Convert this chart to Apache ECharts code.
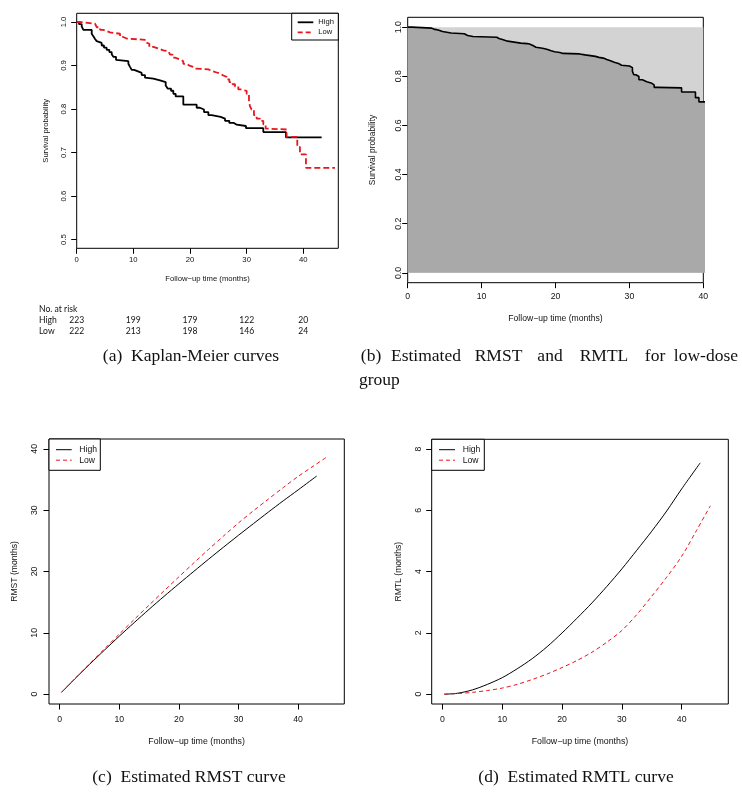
<!DOCTYPE html>
<html><head><meta charset="utf-8">
<script src="https://cdn.jsdelivr.net/npm/echarts@6/dist/echarts.min.js"></script>
<style>html,body{margin:0;padding:0;background:#fff}#c{width:742px;height:799px}</style>
</head><body><div id="c"></div>
<script>
// ---- Panel (a): Kaplan-Meier curves ----
const kmTimeHigh = [0, 0.41, 0.88, 1.18, 2.65, 2.94, 3.24, 3.53, 3.82, 4.41, 4.82, 5.29, 5.76, 6.18, 6.47, 6.94, 7.18, 9.12, 9.41, 9.71, 10.12, 10.71, 11.47, 12.06, 12.35, 13.53, 14.71, 15.71, 16.06, 16.65, 17.06, 17.47, 18.82, 21.18, 21.76, 22.47, 23.24, 23.82, 25.41, 26.18, 26.94, 27.76, 28.24, 29.88, 32.94, 36.94, 43.24];
const kmSurvHigh = [1.0, 0.995, 0.99, 0.982, 0.973, 0.967, 0.961, 0.956, 0.952, 0.946, 0.941, 0.936, 0.931, 0.926, 0.92, 0.913, 0.91, 0.904, 0.897, 0.89, 0.887, 0.883, 0.878, 0.872, 0.87, 0.866, 0.862, 0.854, 0.847, 0.842, 0.835, 0.829, 0.81, 0.803, 0.799, 0.793, 0.786, 0.782, 0.778, 0.773, 0.768, 0.764, 0.761, 0.756, 0.747, 0.735, 0.735];
const kmTimeLow = [0, 0.59, 3.24, 3.53, 4.12, 4.71, 5.29, 5.88, 7.65, 8.12, 8.82, 12.06, 12.35, 12.82, 13.53, 14.41, 15.29, 16.18, 16.47, 16.94, 17.35, 18.24, 18.82, 19.41, 19.88, 20.59, 21.0, 23.24, 24.0, 24.71, 25.41, 25.88, 26.47, 26.94, 27.53, 27.94, 28.53, 28.94, 30.0, 30.41, 30.59, 30.88, 31.29, 31.76, 32.35, 32.94, 33.35, 33.82, 37.06, 38.94, 39.41, 40.47, 45.59];
const kmSurvLow = [1.0, 0.996, 0.992, 0.988, 0.982, 0.979, 0.976, 0.973, 0.966, 0.962, 0.959, 0.954, 0.95, 0.943, 0.939, 0.935, 0.933, 0.931, 0.925, 0.918, 0.914, 0.91, 0.904, 0.9, 0.897, 0.893, 0.891, 0.887, 0.884, 0.881, 0.877, 0.874, 0.868, 0.862, 0.857, 0.852, 0.845, 0.842, 0.835, 0.82, 0.806, 0.799, 0.786, 0.778, 0.773, 0.765, 0.755, 0.753, 0.736, 0.713, 0.696, 0.665, 0.665];
// number at risk
const riskTimes = [0, 10, 20, 30, 40];
const riskHigh = [223, 199, 179, 122, 20];
const riskLow = [222, 213, 198, 146, 24];
// ---- Panel (b): RMST / RMTL for low-dose group (tau = 40) ----
const tau = 40;
const fullSurv = 1.0;
// ---- Panel (c)/(d): RMST and RMTL curves ----
const rTimeHigh = [0.3, 2.5, 5, 7.5, 10, 12.5, 15, 17.5, 20, 22.5, 25, 27.5, 30, 32.5, 35, 37.5, 40, 43.1];
const rmstHigh = [0.3, 2.47, 4.86, 7.18, 9.46, 11.67, 13.84, 15.95, 18.0, 20.02, 22.02, 23.98, 25.91, 27.8, 29.68, 31.52, 33.3, 35.55];
const rmtlHigh = [0, 0.03, 0.14, 0.32, 0.54, 0.83, 1.16, 1.55, 2.0, 2.48, 2.98, 3.52, 4.09, 4.7, 5.32, 5.98, 6.7, 7.55];
const rTimeLow = [0.3, 2.5, 5, 7.5, 10, 12.5, 15, 17.5, 20, 22.5, 25, 27.5, 30, 32.5, 35, 37.5, 40, 42.5, 44.8];
const rmstLow = [0.3, 2.48, 4.94, 7.38, 9.8, 12.18, 14.52, 16.84, 19.13, 21.4, 23.63, 25.8, 27.92, 29.9, 31.8, 33.68, 35.5, 37.15, 38.65];
const rmtlLow = [0, 0.02, 0.06, 0.12, 0.2, 0.32, 0.48, 0.66, 0.87, 1.1, 1.37, 1.7, 2.08, 2.6, 3.2, 3.82, 4.5, 5.35, 6.15];
// tick values
const xTicksA = [0, 10, 20, 30, 40];
const yTicksA = [0.5, 0.6, 0.7, 0.8, 0.9, 1.0];
const xTicksB = [0, 10, 20, 30, 40];
const yTicksB = [0.0, 0.2, 0.4, 0.6, 0.8, 1.0];
const xTicksCD = [0, 10, 20, 30, 40];
const yTicksC = [0, 10, 20, 30, 40];
const yTicksD = [0, 2, 4, 6, 8];
const groupNames = ['High', 'Low'];

const zip = (a, b) => a.map((v, i) => [v, b[i]]);
const SANS = 'Liberation Sans, Arial, sans-serif';
const SERIF = 'Liberation Serif, Times New Roman, serif';
const RED = '#e8161f';

function axis(gi, min, max, ticks, fs, margin, name, nameGap, nfs, fmt, isY) {
  return {
    type: 'value', gridIndex: gi, min: min, max: max,
    position: isY ? 'left' : 'bottom',
    name: name, nameLocation: 'middle', nameGap: nameGap,
    nameTextStyle: {fontFamily: SANS, fontSize: nfs, color: '#111'},
    axisLine: {show: false, onZero: false},
    axisTick: {show: true, length: 5.5, inside: false, customValues: ticks, lineStyle: {color: '#000', width: 1}},
    axisLabel: {show: true, customValues: ticks, fontFamily: SANS, fontSize: fs, color: '#111', margin: margin,
      rotate: isY ? 90 : 0, formatter: fmt || (v => String(v))},
    splitLine: {show: false}
  };
}
const f1 = v => Number(v).toFixed(1);

const grids = [
  {left: 76.7, top: 13.3, width: 261.6, height: 235},
  {left: 407.7, top: 17.3, width: 295.6, height: 265.4},
  {left: 49, top: 439, width: 295.3, height: 265},
  {left: 431.7, top: 439.3, width: 296.6, height: 264.7}
].map(g => Object.assign(g, {show: true, borderColor: '#000', borderWidth: 1, backgroundColor: 'transparent', containLabel: false, outerBoundsMode: 'none'}));

const option = {
  animation: false,
  backgroundColor: '#fff',
  grid: grids,
  xAxis: [
    axis(0, 0, 46.18, xTicksA, 7.7, 8, 'Follow\u2212up time (months)', 27, 7.7),
    axis(1, 0, 40, xTicksB, 8.7, 9, 'Follow\u2212up time (months)', 31, 8.6),
    axis(2, -1.8, 47.75, xTicksCD, 8.7, 11, 'Follow\u2212up time (months)', 33, 8.8),
    axis(3, -1.8, 47.8, xTicksCD, 8.7, 11, 'Follow\u2212up time (months)', 33, 8.8)
  ],
  yAxis: [
    axis(0, 0.48, 1.02, yTicksA, 7.7, 9, 'Survival probability', 27, 7.6, f1, true),
    axis(1, -0.04, 1.04, yTicksB, 8.7, 5, 'Survival probability', 31, 8.4, f1, true),
    axis(2, -1.6, 41.6, yTicksC, 8.7, 10, 'RMST (months)', 30, 8.6, null, true),
    axis(3, -0.32, 8.32, yTicksD, 8.7, 9, 'RMTL (months)', 29, 8.6, null, true)
  ],
  series: [
    {name: groupNames[0], type: 'line', xAxisIndex: 0, yAxisIndex: 0, data: zip(kmTimeHigh, kmSurvHigh), step: 'end', symbol: 'none',
      lineStyle: {color: '#000', width: 1.8}, clip: true},
    {name: groupNames[1], type: 'line', xAxisIndex: 0, yAxisIndex: 0, data: zip(kmTimeLow, kmSurvLow), step: 'end', symbol: 'none',
      lineStyle: {color: RED, width: 1.8, type: [6, 3]}, clip: true},
    {name: 'RMTL region', type: 'line', xAxisIndex: 1, yAxisIndex: 1, data: [[0, fullSurv], [tau, fullSurv]], symbol: 'none',
      lineStyle: {width: 0, opacity: 0}, areaStyle: {color: '#d3d3d3', opacity: 1, origin: 0}, clip: true},
    {name: 'Low (RMST)', type: 'line', xAxisIndex: 1, yAxisIndex: 1, data: zip(kmTimeLow, kmSurvLow), step: 'end', symbol: 'none',
      lineStyle: {color: '#000', width: 1.6}, areaStyle: {color: '#a9a9a9', opacity: 1, origin: 0}, clip: true},
    {name: 'RMST High', type: 'line', xAxisIndex: 2, yAxisIndex: 2, data: zip(rTimeHigh, rmstHigh), symbol: 'none', smooth: 0.3,
      lineStyle: {color: '#000', width: 1}},
    {name: 'RMST Low', type: 'line', xAxisIndex: 2, yAxisIndex: 2, data: zip(rTimeLow, rmstLow), symbol: 'none', smooth: 0.3,
      lineStyle: {color: RED, width: 1, type: [4, 3]}},
    {name: 'RMTL High', type: 'line', xAxisIndex: 3, yAxisIndex: 3, data: zip(rTimeHigh, rmtlHigh), symbol: 'none', smooth: 0.3,
      lineStyle: {color: '#000', width: 1}},
    {name: 'RMTL Low', type: 'line', xAxisIndex: 3, yAxisIndex: 3, data: zip(rTimeLow, rmtlLow), symbol: 'none', smooth: 0.3,
      lineStyle: {color: RED, width: 1, type: [4, 3]}}
  ]
};

const chart = echarts.init(document.getElementById('c'), null, {renderer: 'canvas'});
chart.setOption(option);

// ---- graphic: legends, risk table, captions ----
const G = [];
function legend(x0, y0, w, h, lx1, lx2, tx, y1, y2, fs, lw, dash) {
  G.push({type: 'rect', shape: {x: x0, y: y0, width: w, height: h}, style: {fill: '#fff', stroke: '#000', lineWidth: 1}, z: 100});
  G.push({type: 'line', shape: {x1: lx1, y1: y1, x2: lx2, y2: y1}, style: {stroke: '#000', lineWidth: lw}, z: 101});
  G.push({type: 'line', shape: {x1: lx1, y1: y2, x2: lx2, y2: y2}, style: {stroke: RED, lineWidth: lw, lineDash: dash}, z: 101});
  G.push({type: 'text', x: tx, y: y1, style: {text: groupNames[0], font: fs + 'px ' + SANS, fill: '#111', textVerticalAlign: 'middle'}, z: 101});
  G.push({type: 'text', x: tx, y: y2, style: {text: groupNames[1], font: fs + 'px ' + SANS, fill: '#111', textVerticalAlign: 'middle'}, z: 101});
}
legend(291.7, 13.3, 46.6, 26.7, 297.7, 313.3, 318.3, 22.3, 32.3, 7.6, 1.8, [5, 3]);
legend(49, 439, 51.3, 31.3, 56, 71.7, 79.3, 449.7, 460.2, 8.6, 1, [4, 3]);
legend(431.7, 439.3, 52.6, 31, 439, 455, 462.7, 449.7, 460.2, 8.6, 1, [4, 3]);

// risk table (positions taken from panel (a) x scale)
const RF = '8.6px Lato, Open Sans, sans-serif';
G.push({type: 'text', x: 39, y: 309, style: {text: 'No. at risk', font: RF, fill: '#111', textVerticalAlign: 'middle'}});
G.push({type: 'text', x: 39, y: 320.5, style: {text: groupNames[0], font: RF, fill: '#111', textVerticalAlign: 'middle'}});
G.push({type: 'text', x: 39, y: 331.5, style: {text: groupNames[1], font: RF, fill: '#111', textVerticalAlign: 'middle'}});
riskTimes.forEach((t, i) => {
  const px = chart.convertToPixel({xAxisIndex: 0}, t);
  G.push({type: 'text', x: px, y: 320.5, style: {text: String(riskHigh[i]), font: RF, fill: '#111', textAlign: 'center', textVerticalAlign: 'middle'}});
  G.push({type: 'text', x: px, y: 331.5, style: {text: String(riskLow[i]), font: RF, fill: '#111', textAlign: 'center', textVerticalAlign: 'middle'}});
});

// captions
const CF = '17.5px ' + SERIF;
function cap(text, x, y, align) {
  G.push({type: 'text', x: x, y: y, style: {text: text, font: CF, fill: '#111', textAlign: align || 'center', textVerticalAlign: 'middle'}});
}
cap('(a)  Kaplan-Meier curves', 191, 356);
[['(b)', 371], ['Estimated', 426], ['RMST', 498.5], ['and', 550], ['RMTL', 604], ['for', 655], ['low-dose', 738, 'right']]
  .forEach(w => cap(w[0], w[1], 356, w[2]));
cap('group', 359, 380, 'left');
cap('(c)  Estimated RMST curve', 189, 777);
cap('(d)  Estimated RMTL curve', 576, 777);

chart.setOption({graphic: G});
</script>
</body></html>
